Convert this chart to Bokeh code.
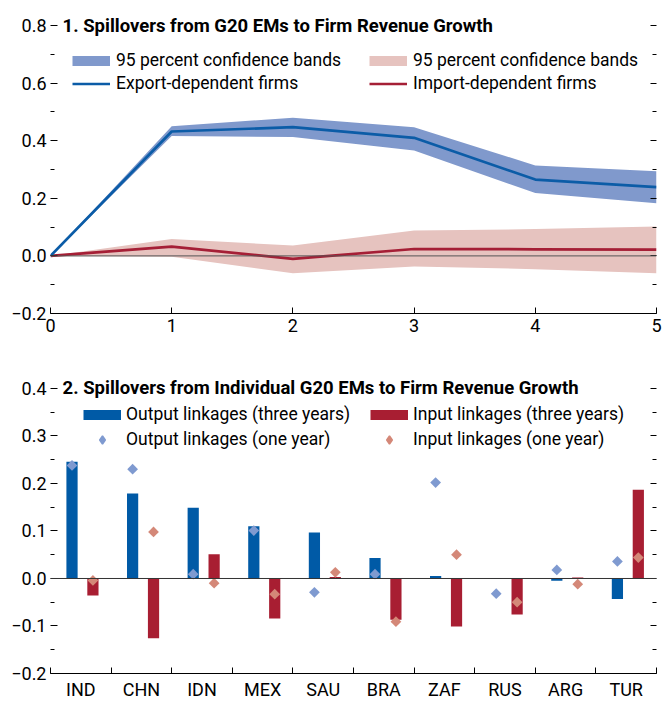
import math
from bokeh.plotting import figure
from bokeh.models import (ColumnDataSource, Range1d, FixedTicker, LinearAxis, Span,
                          Label, Legend, LegendItem)
from bokeh.layouts import column
from bokeh.embed import file_html
from bokeh.resources import INLINE

FONT = "Roboto"
FS_TICK = "18px"
FS_LEG = "17.5px"
FS_TITLE = "18.5px"

# ---------------- Panel 1 data ----------------
horizon = [0, 1, 2, 3, 4, 5]
export_mean = [0.0, 0.432, 0.447, 0.410, 0.265, 0.239]
export_lo = [0.0, 0.416, 0.413, 0.366, 0.218, 0.183]
export_hi = [0.0, 0.450, 0.480, 0.447, 0.314, 0.294]
import_mean = [0.0, 0.032, -0.010, 0.024, 0.023, 0.022]
import_lo = [0.0, -0.003, -0.060, -0.037, -0.046, -0.060]
import_hi = [0.0, 0.059, 0.036, 0.088, 0.093, 0.102]
p1_yticks = [-0.2, 0.0, 0.2, 0.4, 0.6, 0.8]
p1_yminor = [-0.1, 0.1, 0.3, 0.5, 0.7]

# ---------------- Panel 2 data ----------------
countries = ["IND", "CHN", "IDN", "MEX", "SAU", "BRA", "ZAF", "RUS", "ARG", "TUR"]
output_3y = [0.246, 0.179, 0.149, 0.110, 0.097, 0.043, 0.005, -0.001, -0.005, -0.043]
input_3y = [-0.036, -0.126, 0.051, -0.084, 0.003, -0.087, -0.101, -0.076, 0.002, 0.187]
output_1y = [0.238, 0.230, 0.009, 0.101, -0.029, 0.009, 0.202, -0.032, 0.018, 0.036]
input_1y = [-0.004, 0.098, -0.010, -0.033, 0.013, -0.091, 0.050, -0.050, -0.012, 0.044]
p2_yticks = [-0.2, -0.1, 0.0, 0.1, 0.2, 0.3, 0.4]
p2_yminor = [-0.15, -0.05, 0.05, 0.15, 0.25, 0.35]

BLUE_LINE = "#0b5ca7"
BLUE_BAND = "#8099cc"
RED_LINE = "#a51f36"
RED_BAND = "#e6c3bf"
BLUE_BAR = "#005aa6"
RED_BAR = "#a81e32"
BLUE_DIA = "#7f9ad0"
RED_DIA = "#d48878"


def fmt(t):
    return f"{t:.1f}".replace("-", "\u2212")


def style_axes(p, yticks, yminor):
    yl = p.yaxis[0]
    yl.ticker = FixedTicker(ticks=yticks, minor_ticks=yminor)
    yl.major_label_overrides = {t: fmt(t) for t in yticks}
    yl.axis_line_color = None
    yl.major_tick_in = 7
    yl.major_tick_out = 0
    yl.minor_tick_in = 4
    yl.minor_tick_out = 0
    yl.major_tick_line_color = "black"
    yl.minor_tick_line_color = "black"
    yl.major_label_text_font = FONT
    yl.major_label_text_font_size = FS_TICK
    yl.major_label_text_color = "black"
    yl.major_label_standoff = 4
    # right axis: tick dashes only
    yr = LinearAxis(ticker=FixedTicker(ticks=yticks, minor_ticks=yminor))
    yr.axis_line_color = None
    yr.major_tick_in = 6
    yr.major_tick_out = 0
    yr.minor_tick_in = 4
    yr.minor_tick_out = 0
    yr.major_tick_line_color = "black"
    yr.minor_tick_line_color = "black"
    yr.major_label_overrides = {t: "" for t in yticks}
    yr.major_label_text_color = None
    yr.major_label_standoff = 0
    p.add_layout(yr, "right")


def make_fig(height, top, bottom):
    p = figure(width=662, height=height, output_backend="svg", toolbar_location=None,
               min_border_left=50, min_border_right=6, min_border_top=top,
               min_border_bottom=bottom)
    p.outline_line_color = None
    p.xgrid.visible = False
    p.ygrid.visible = False
    p.background_fill_color = "white"
    p.border_fill_color = "white"
    return p


def add_legend(p, items, x, y, standoff, spacing):
    lg = Legend(items=items, location=(x, y), orientation="vertical",
                label_text_font=FONT, label_text_font_size=FS_LEG, label_text_color="black",
                glyph_width=38, glyph_height=21, label_height=21, spacing=spacing,
                label_standoff=standoff, padding=0, margin=0,
                border_line_color=None, background_fill_alpha=0)
    p.add_layout(lg, "center")


nan = float("nan")

# ================= Panel 1 =================
p1 = make_fig(344, 13, 31)
p1.x_range = Range1d(0, 5)
p1.y_range = Range1d(-0.2, 0.8417)
style_axes(p1, p1_yticks, p1_yminor)
xa = p1.xaxis[0]
xa.ticker = FixedTicker(ticks=horizon)
xa.minor_tick_line_color = None
xa.major_tick_in = 6
xa.major_tick_out = 0
xa.axis_line_color = "black"
xa.axis_line_width = 1.2
xa.major_tick_line_color = "black"
xa.major_label_text_font = FONT
xa.major_label_text_font_size = FS_TICK
xa.major_label_text_color = "black"
xa.major_label_standoff = 5

src1 = ColumnDataSource(dict(h=horizon, em=export_mean, elo=export_lo, ehi=export_hi,
                             im=import_mean, ilo=import_lo, ihi=import_hi))
p1.varea(x="h", y1="ilo", y2="ihi", source=src1, fill_color=RED_BAND, fill_alpha=1)
p1.varea(x="h", y1="elo", y2="ehi", source=src1, fill_color=BLUE_BAND, fill_alpha=1)
p1.add_layout(Span(location=0, dimension="width", line_color="#555555", line_width=1))
l_imp = p1.line(x="h", y="im", source=src1, line_color=RED_LINE, line_width=2.7)
l_exp = p1.line(x="h", y="em", source=src1, line_color=BLUE_LINE, line_width=2.7)
proxy_eb = p1.line([nan], [nan], line_color=BLUE_BAND, line_width=10)
proxy_ib = p1.line([nan], [nan], line_color=RED_BAND, line_width=10)

add_legend(p1, [LegendItem(label="95 percent confidence bands", renderers=[proxy_eb]),
                LegendItem(label="Export-dependent firms", renderers=[l_exp])],
           22, 219.5, 6, 2)
add_legend(p1, [LegendItem(label="95 percent confidence bands", renderers=[proxy_ib]),
                LegendItem(label="Import-dependent firms", renderers=[l_imp])],
           319, 219.5, 6, 2)

p1.add_layout(Label(x=0.1, y=0.8, text="1. Spillovers from G20 EMs to Firm Revenue Growth",
                    text_font=FONT, text_font_size=FS_TITLE, text_font_style="bold",
                    text_baseline="middle", text_color="black"))

# ================= Panel 2 =================
p2 = make_fig(358, 32, 28)
n = len(countries)
p2.x_range = Range1d(0, n)
p2.y_range = Range1d(-0.2, 0.4252)
style_axes(p2, p2_yticks, p2_yminor)
xb = p2.xaxis[0]
centers = [i + 0.5 for i in range(n)]
xb.ticker = FixedTicker(ticks=centers, minor_ticks=list(range(n + 1)))
xb.major_label_overrides = {c: name for c, name in zip(centers, countries)}
xb.major_tick_in = 0
xb.major_tick_out = 0
xb.minor_tick_in = 6
xb.minor_tick_out = 0
xb.minor_tick_line_color = "black"
xb.axis_line_color = "black"
xb.axis_line_width = 1.2
xb.major_label_text_font = FONT
xb.major_label_text_font_size = FS_TICK
xb.major_label_text_color = "black"
xb.major_label_standoff = 5

OUT_OFF = 0.355
IN_OFF = 0.70
BAR_W = 0.185
idx = list(range(n))
src2 = ColumnDataSource(dict(xo=[i + OUT_OFF for i in idx], xi=[i + IN_OFF for i in idx],
                             o3=output_3y, i3=input_3y, o1=output_1y, i1=input_1y))
p2.add_layout(Span(location=0, dimension="width", line_color="#333333", line_width=1))
b_out = p2.vbar(x="xo", top="o3", bottom=0, width=BAR_W, source=src2,
                fill_color=BLUE_BAR, line_color=None)
b_in = p2.vbar(x="xi", top="i3", bottom=0, width=BAR_W, source=src2,
               fill_color=RED_BAR, line_color=None)
d_out = p2.scatter(x="xo", y="o1", source=src2, marker="square", size=7.6,
                   angle=math.pi / 4, fill_color=BLUE_DIA, line_color=None)
d_in = p2.scatter(x="xi", y="i1", source=src2, marker="square", size=7.6,
                  angle=math.pi / 4, fill_color=RED_DIA, line_color=None)
proxy_ob = p2.line([nan], [nan], line_color=BLUE_BAR, line_width=10)
proxy_ib2 = p2.line([nan], [nan], line_color=RED_BAR, line_width=10)
proxy_od = p2.scatter([nan], [nan], marker="diamond", size=8, fill_color=BLUE_DIA,
                      line_color=BLUE_DIA, line_width=1.5)
proxy_id = p2.scatter([nan], [nan], marker="diamond", size=8, fill_color=RED_DIA,
                      line_color=RED_DIA, line_width=1.5)

add_legend(p2, [LegendItem(label="Output linkages (three years)", renderers=[proxy_ob]),
                LegendItem(label="Output linkages (one year)", renderers=[proxy_od])],
           33, 223.5, 5, 4)
add_legend(p2, [LegendItem(label="Input linkages (three years)", renderers=[proxy_ib2]),
                LegendItem(label="Input linkages (one year)", renderers=[proxy_id])],
           320, 223.5, 5, 4)

p2.add_layout(Label(x=0.2, y=0.4,
                    text="2. Spillovers from Individual G20 EMs to Firm Revenue Growth",
                    text_font=FONT, text_font_size=FS_TITLE, text_font_style="bold",
                    text_baseline="middle", text_color="black"))

layout = column(p1, p2, spacing=0)
open("out.html", "w").write(file_html(layout, INLINE))
